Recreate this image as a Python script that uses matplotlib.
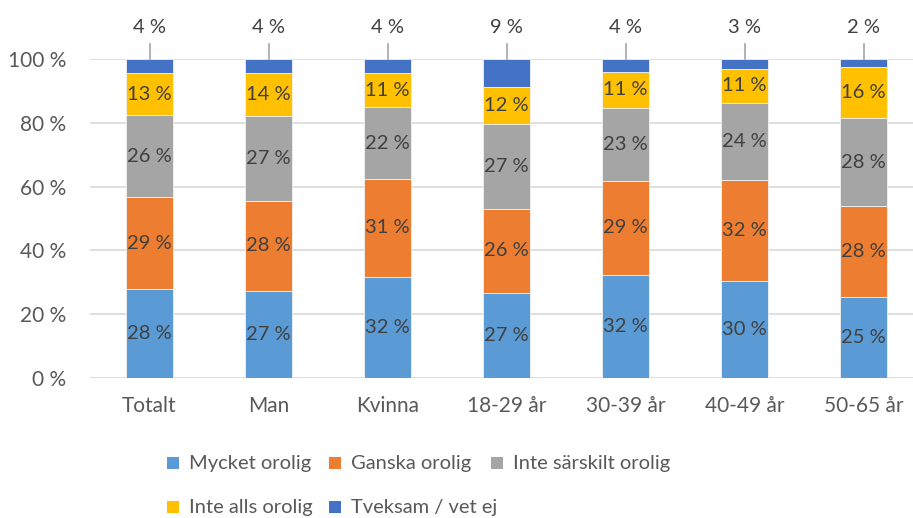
import matplotlib
matplotlib.use("Agg")
import matplotlib.pyplot as plt
from matplotlib.patches import Rectangle

plt.rcParams['font.family'] = ['Lato', 'DejaVu Sans']

categories = ["Totalt", "Man", "Kvinna", "18-29 år", "30-39 år", "40-49 år", "50-65 år"]
series_names = ["Mycket orolig", "Ganska orolig", "Inte särskilt orolig", "Inte alls orolig", "Tveksam / vet ej"]
mycket = [27.9, 27.3, 31.7, 26.8, 32.4, 30.4, 25.4]
ganska = [28.8, 28.2, 30.7, 26.1, 29.4, 31.6, 28.4]
inte_sarskilt = [25.7, 26.6, 22.4, 26.6, 22.8, 24.2, 27.7]
inte_alls = [13.2, 13.5, 10.8, 11.6, 11.4, 10.7, 16.0]
tveksam = [4.4, 4.4, 4.4, 8.9, 4.0, 3.1, 2.4]
colors = ["#5B9BD5", "#ED7D31", "#A5A5A5", "#FFC000", "#4472C4"]
yticks = [0, 20, 40, 60, 80, 100]

W, H = 913, 518
fig = plt.figure(figsize=(W / 100, H / 100), dpi=100)
ax = fig.add_axes([90 / W, 140 / H, 833 / W, 319 / H])

series = [mycket, ganska, inte_sarskilt, inte_alls, tveksam]
x = list(range(len(categories)))
bottom = [0.0] * len(categories)
txt = "#404040"
for vals, col in zip(series, colors):
    ax.bar(x, vals, width=0.40, bottom=bottom, color=col, edgecolor="#f2f2f2",
           linewidth=0.6, zorder=2)
    if vals is not tveksam:
        for xi, b, v in zip(x, bottom, vals):
            ax.text(xi, b + v / 2, f"{round(v)} %", ha="center", va="center",
                    fontsize=14.5, color=txt, zorder=3)
    bottom = [b + v for b, v in zip(bottom, vals)]

# top labels with leader lines for the last series
for xi, b, v in zip(x, bottom, tveksam):
    ax.plot([xi, xi], [b, 104.8], color="#A6A6A6", lw=1.2, clip_on=False, zorder=3)
    ax.text(xi, 109.8, f"{round(v)} %", ha="center", va="center",
            fontsize=14.5, color=txt, clip_on=False)

ax.set_xlim(-0.5, len(categories) - 0.5)
ax.set_ylim(0, 100)
ax.set_yticks(yticks)
ax.set_yticklabels([f"{t} %" for t in yticks])
ax.set_xticks(x)
ax.set_xticklabels(categories)
ax.tick_params(axis="both", length=0, labelsize=15, labelcolor="#595959")
ax.tick_params(axis="y", pad=17)
ax.tick_params(axis="x", pad=13)
for s in ax.spines.values():
    s.set_visible(False)
ax.yaxis.grid(True, color="#D9D9D9", lw=1.2, zorder=0)
ax.set_axisbelow(True)

# legend (manual, row-major layout)
leg_pos = [(173, 463), (335, 463), (497, 463), (173, 507), (335, 507)]
for name, col, (lx, ly) in zip(series_names, colors, leg_pos):
    sq = 12
    fig.patches.append(Rectangle(((lx - sq / 2) / W, (H - ly - sq / 2) / H), sq / W, sq / H,
                                 transform=fig.transFigure, facecolor=col, edgecolor="none"))
    fig.text((lx + 16) / W, (H - ly) / H, name, ha="left", va="center",
             fontsize=14.5, color="#595959")

fig.savefig("out.png", dpi=100)
